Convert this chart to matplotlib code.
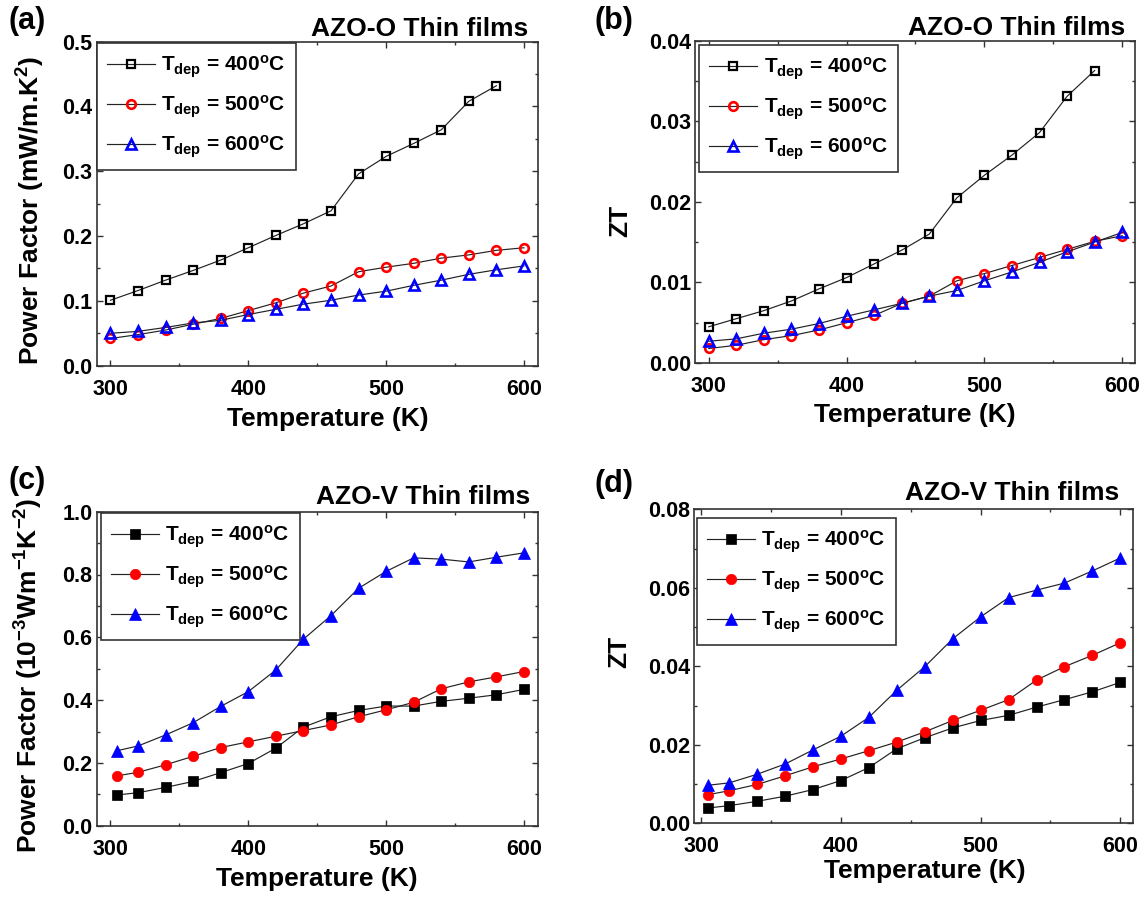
import matplotlib
matplotlib.use("Agg")
import matplotlib.pyplot as plt
from matplotlib.ticker import MultipleLocator, FormatStrFormatter
from matplotlib.font_manager import FontProperties

plt.rcParams['font.family'] = ['Liberation Sans', 'DejaVu Sans']
plt.rcParams['font.weight'] = 'bold'
plt.rcParams['mathtext.fontset'] = 'custom'
plt.rcParams['mathtext.rm'] = 'Liberation Sans:bold'
plt.rcParams['mathtext.it'] = 'Liberation Sans:bold'
plt.rcParams['mathtext.bf'] = 'Liberation Sans:bold'
plt.rcParams['mathtext.default'] = 'rm'

# ---------------- data ----------------
T_a_400 = [300, 320, 340, 360, 380, 400, 420, 440, 460, 480, 500, 520, 540, 560, 580]
T_a = [300, 320, 340, 360, 380, 400, 420, 440, 460, 480, 500, 520, 540, 560, 580, 600]
T_v = [305, 320, 340, 360, 380, 400, 420, 440, 460, 480, 500, 520, 540, 560, 580, 600]

pf_o_400 = [0.101, 0.116, 0.132, 0.147, 0.163, 0.182, 0.201, 0.219, 0.239, 0.296,
            0.323, 0.343, 0.364, 0.408, 0.432]
pf_o_500 = [0.042, 0.048, 0.055, 0.064, 0.073, 0.085, 0.097, 0.112, 0.123, 0.145,
            0.152, 0.158, 0.166, 0.171, 0.178, 0.182]
pf_o_600 = [0.050, 0.053, 0.059, 0.066, 0.070, 0.079, 0.087, 0.095, 0.101, 0.109,
            0.115, 0.124, 0.132, 0.141, 0.148, 0.154]

zt_o_400 = [0.0045, 0.0055, 0.0065, 0.0077, 0.0092, 0.0106, 0.0123, 0.0140, 0.0160,
            0.0205, 0.0233, 0.0258, 0.0286, 0.0331, 0.0363]
zt_o_500 = [0.0018, 0.0022, 0.0029, 0.0034, 0.0041, 0.0050, 0.0059, 0.0074, 0.0083,
            0.0102, 0.0111, 0.0121, 0.0131, 0.0141, 0.0151, 0.0158]
zt_o_600 = [0.0027, 0.0030, 0.0037, 0.0042, 0.0049, 0.0058, 0.0066, 0.0074, 0.0083,
            0.0090, 0.0102, 0.0113, 0.0125, 0.0138, 0.0150, 0.0162]

pf_v_400 = [0.098, 0.105, 0.122, 0.141, 0.169, 0.198, 0.247, 0.314, 0.347, 0.367,
            0.381, 0.381, 0.396, 0.406, 0.417, 0.434]
pf_v_500 = [0.159, 0.170, 0.194, 0.221, 0.249, 0.267, 0.285, 0.303, 0.321, 0.347,
            0.369, 0.393, 0.436, 0.458, 0.474, 0.491]
pf_v_600 = [0.239, 0.254, 0.289, 0.328, 0.380, 0.427, 0.496, 0.594, 0.669, 0.756,
            0.810, 0.853, 0.849, 0.840, 0.855, 0.869]

zt_v_400 = [0.0039, 0.0045, 0.0056, 0.0069, 0.0086, 0.0109, 0.0142, 0.0190, 0.0218,
            0.0243, 0.0262, 0.0275, 0.0296, 0.0315, 0.0335, 0.0359]
zt_v_500 = [0.0073, 0.0083, 0.0099, 0.0121, 0.0144, 0.0164, 0.0185, 0.0207, 0.0233,
            0.0262, 0.0288, 0.0315, 0.0365, 0.0399, 0.0428, 0.0460]
zt_v_600 = [0.0097, 0.0103, 0.0125, 0.0151, 0.0187, 0.0222, 0.0270, 0.0339, 0.0399,
            0.0470, 0.0526, 0.0575, 0.0594, 0.0612, 0.0643, 0.0676]

legend_labels = [r'T$_{\mathrm{dep}}$ = 400$^{\mathrm{o}}$C',
                 r'T$_{\mathrm{dep}}$ = 500$^{\mathrm{o}}$C',
                 r'T$_{\mathrm{dep}}$ = 600$^{\mathrm{o}}$C']
titles = ['AZO-O Thin films', 'AZO-O Thin films', 'AZO-V Thin films', 'AZO-V Thin films']
panel_tags = ['(a)', '(b)', '(c)', '(d)']
ylabels = [r'Power Factor (mW/m.K$^{2}$)', 'ZT',
           r'Power Factor (10$^{-3}$Wm$^{-1}$K$^{-2}$)', 'ZT']
xlabel = 'Temperature (K)'

# ---------------- figure ----------------
W, H = 1145, 906
fig = plt.figure(figsize=(W / 100, H / 100), dpi=100)


def add_ax(l, r, t, b):
    return fig.add_axes([l / W, 1 - b / H, (r - l) / W, (b - t) / H])


axes = [add_ax(96.7, 537.7, 41.7, 365.7),
        add_ax(695, 1135.3, 40.7, 363),
        add_ax(96.7, 537.7, 511.7, 825.7),
        add_ax(694.3, 1133.3, 509.3, 823.3)]

line_col = '#222222'
edge = '#333333'

open_styles = [dict(marker='s', ms=5.8, mfc='none', mec='black', mew=1.6),
               dict(marker='o', ms=6.2, mfc='none', mec='red', mew=1.9),
               dict(marker='^', ms=7.2, mfc='none', mec='blue', mew=1.9)]
fill_styles = [dict(marker='s', ms=6.5, mfc='black', mec='black', mew=0.5),
               dict(marker='o', ms=7.5, mfc='red', mec='red', mew=0.5),
               dict(marker='^', ms=9, mfc='blue', mec='blue', mew=0.5)]

panels = [
    (axes[0], [(T_a_400, pf_o_400), (T_a, pf_o_500), (T_a, pf_o_600)], open_styles,
     (290, 610), (0, 0.5), 0.1, 0.05, '%.1f'),
    (axes[1], [(T_a_400, zt_o_400), (T_a, zt_o_500), (T_a, zt_o_600)], open_styles,
     (290, 609.5), (0, 0.04), 0.01, 0.005, '%.2f'),
    (axes[2], [(T_v, pf_v_400), (T_v, pf_v_500), (T_v, pf_v_600)], fill_styles,
     (290, 610), (0, 1.0), 0.2, 0.1, '%.1f'),
    (axes[3], [(T_v, zt_v_400), (T_v, zt_v_500), (T_v, zt_v_600)], fill_styles,
     (295, 609.3), (0, 0.08), 0.02, 0.01, '%.2f'),
]

legend_anchor = [(0.0, 1.0 - 1.0 / 324), (4 / 440, 1 - 4.3 / 322),
                 (4 / 441, 1 - 1.3 / 314), (2.4 / 439, 1 - 8.7 / 314)]
title_pos = [(0.978, 1.019), (0.977, 1.018), (0.982, 1.024), (0.967, 1.029)]
ylabel_pos = [(-0.149, 0.48), (-0.170, 0.44), (-0.154, 0.48), (-0.170, 0.545)]
xlabel_pos = [(0.525, -0.165), (0.50, -0.162), (0.50, -0.170), (0.524, -0.152)]
tag_pos = [(8, 6), (594, 6), (8, 466), (594, 469)]

leg_prop = FontProperties(family='Liberation Sans', weight='bold', size=15)

for i, (ax, series, styles, xl, yl, ymaj, ymin, fmt) in enumerate(panels):
    handles = []
    for (xs, ys), st in zip(series, styles):
        h, = ax.plot(xs, ys, '-', color=line_col, lw=0.85, **st)
        handles.append(h)
    ax.set_xlim(*xl)
    ax.set_ylim(*yl)
    ax.xaxis.set_major_locator(MultipleLocator(100))
    ax.xaxis.set_minor_locator(MultipleLocator(50))
    ax.yaxis.set_major_locator(MultipleLocator(ymaj))
    ax.yaxis.set_minor_locator(MultipleLocator(ymin))
    ax.yaxis.set_major_formatter(FormatStrFormatter(fmt))
    ax.tick_params(which='both', direction='in', top=True, right=True,
                   color=edge, width=1.0)
    ax.tick_params(which='major', length=4.5, labelsize=15.5)
    ax.tick_params(axis='x', which='major', pad=9.5)
    ax.tick_params(axis='y', which='major', pad=3)
    ax.tick_params(which='minor', length=2.2)
    for lab in ax.get_xticklabels() + ax.get_yticklabels():
        lab.set_fontweight('bold')
    for sp in ax.spines.values():
        sp.set_color(edge)
        sp.set_linewidth(1.2)

    ax.set_xlabel(xlabel, fontsize=19, fontweight='bold', va='center')
    ax.xaxis.set_label_coords(*xlabel_pos[i])
    ax.set_ylabel(ylabels[i], fontsize=19, fontweight='bold', va='center')
    ax.yaxis.set_label_coords(*ylabel_pos[i])

    ax.text(title_pos[i][0], title_pos[i][1], titles[i], transform=ax.transAxes,
            ha='right', va='baseline', fontsize=19, fontweight='bold')

    leg = ax.legend(handles, legend_labels, loc='upper left',
                    bbox_to_anchor=legend_anchor[i], bbox_transform=ax.transAxes,
                    borderaxespad=0, frameon=True, fancybox=False, framealpha=1,
                    edgecolor=edge, prop=leg_prop, handlelength=2.3,
                    handletextpad=0.3, labelspacing=0.65, borderpad=0.5,
                    numpoints=1)
    leg.get_frame().set_linewidth(1.2)

    fig.text(tag_pos[i][0] / W, 1 - tag_pos[i][1] / H, panel_tags[i],
             ha='left', va='top', fontsize=22, fontweight='bold')

fig.savefig('out.png', dpi=100)
